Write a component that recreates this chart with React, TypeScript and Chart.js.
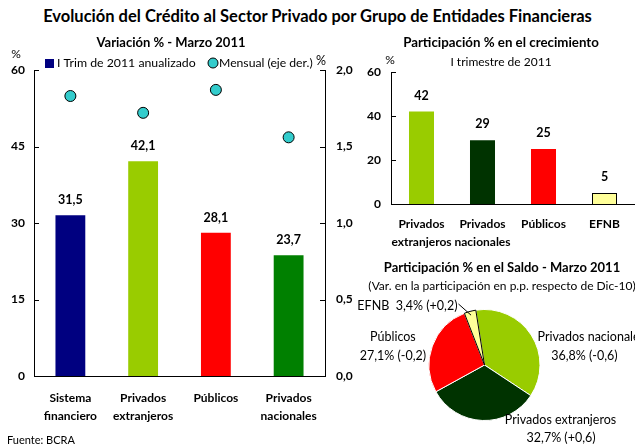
import React, { useEffect, useRef } from "react";
import { Chart, registerables } from "chart.js";

Chart.register(...registerables);

const W = 635;
const H = 448;
const FONT = "Lato, 'DejaVu Sans', sans-serif";

// ---- Left panel data ----
const leftCategories = [["Sistema", "financiero"], ["Privados", "extranjeros"], ["Públicos"], ["Privados", "nacionales"]];
const annualizedValues = [31.5, 42.1, 28.1, 23.7];
const annualizedColors = ["#000080", "#99CC00", "#FF0000", "#008000"];
const monthlyValues = [1.83, 1.72, 1.87, 1.56];
const leftAxisTicks = [0, 15, 30, 45, 60];
const rightAxisTicks = [0, 0.5, 1, 1.5, 2];

// ---- Top-right panel data ----
const growthCategories = [["Privados", "extranjeros"], ["Privados", "nacionales"], ["Públicos"], ["EFNB"]];
const growthValues = [42, 29, 25, 5];
const growthColors = ["#99CC00", "#003300", "#FF0000", "#FFFF99"];
const growthTicks = [0, 20, 40, 60];

// ---- Pie panel data ----
const pieLabels = ["Privados nacionales", "Privados extranjeros", "Públicos", "EFNB"];
const pieValues = [36.8, 32.7, 27.1, 3.4];
const pieChanges = ["-0,6", "+0,6", "-0,2", "+0,2"];
const pieColors = ["#99CC00", "#003300", "#FF0000", "#FFFF99"];

const comma = (v: number, d = 1) => v.toFixed(d).replace(".", ",");

function text(ctx: CanvasRenderingContext2D, s: string, x: number, y: number, size: number, bold: boolean, align: CanvasTextAlign = "center") {
  ctx.save();
  ctx.font = `${bold ? "bold " : ""}${size}px ${FONT}`;
  ctx.fillStyle = "#000";
  ctx.textAlign = align;
  ctx.textBaseline = "middle";
  ctx.fillText(s, x, y);
  ctx.restore();
}

function inwardTicks(ctx: CanvasRenderingContext2D, scale: any, values: number[], side: "left" | "right") {
  ctx.save();
  ctx.strokeStyle = "#000";
  ctx.lineWidth = 1;
  values.forEach((v) => {
    const y = Math.round(scale.getPixelForValue(v)) + 0.5;
    ctx.beginPath();
    if (side === "left") {
      const x = scale.right;
      ctx.moveTo(x, y);
      ctx.lineTo(x + 5, y);
    } else {
      const x = scale.left;
      ctx.moveTo(x, y);
      ctx.lineTo(x - 5, y);
    }
    ctx.stroke();
  });
  ctx.restore();
}

const tickFont = { family: FONT, size: 12, weight: "bold" as const };
const catFont = { family: FONT, size: 12, weight: "bold" as const, lineHeight: 1.5 };

function leftConfig(): any {
  return {
    type: "bar",
    data: {
      labels: leftCategories,
      datasets: [
        {
          type: "line",
          label: "Mensual (eje der.)",
          data: monthlyValues,
          yAxisID: "y1",
          showLine: false,
          pointRadius: 5.5,
          pointBackgroundColor: "#33CCCC",
          pointBorderColor: "#000",
          pointBorderWidth: 1,
          order: 0,
        },
        {
          type: "bar",
          label: "I Trim de 2011 anualizado",
          data: annualizedValues,
          backgroundColor: annualizedColors,
          yAxisID: "y",
          barPercentage: 0.41,
          categoryPercentage: 1,
          order: 1,
        },
      ],
    },
    options: {
      responsive: false,
      animation: false,
      devicePixelRatio: 1,
      layout: { padding: { left: 8, right: 270, top: 70, bottom: 22 } },
      plugins: { legend: { display: false }, tooltip: { enabled: false }, title: { display: false } },
      scales: {
        x: {
          grid: { display: false, drawTicks: false },
          border: { display: true, color: "#000" },
          ticks: { font: catFont, color: "#000", padding: 13, maxRotation: 0, autoSkip: false },
          afterFit: (s: any) => { s.height = 50; },
        },
        y: {
          position: "left",
          min: 0,
          max: 60,
          afterBuildTicks: (s: any) => { s.ticks = leftAxisTicks.map((v) => ({ value: v })); },
          grid: { display: false, drawTicks: false },
          border: { display: true, color: "#000" },
          ticks: { font: tickFont, color: "#000", padding: 9 },
          afterFit: (s: any) => { s.width = 26; },
        },
        y1: {
          position: "right",
          min: 0,
          max: 2,
          afterBuildTicks: (s: any) => { s.ticks = rightAxisTicks.map((v) => ({ value: v })); },
          grid: { display: false, drawTicks: false },
          border: { display: true, color: "#000" },
          ticks: { font: tickFont, color: "#000", padding: 11, callback: (v: number) => comma(Number(v)) },
          afterFit: (s: any) => { s.width = 40; },
        },
      },
    },
    plugins: [
      {
        id: "leftDecor",
        afterDraw(chart: any) {
          const ctx = chart.ctx as CanvasRenderingContext2D;
          inwardTicks(ctx, chart.scales.y, leftAxisTicks, "left");
          inwardTicks(ctx, chart.scales.y1, rightAxisTicks, "right");
          const meta = chart.getDatasetMeta(1);
          meta.data.forEach((bar: any, i: number) => {
            text(ctx, comma(annualizedValues[i]), bar.x, bar.y - 15, 12.5, true);
          });
          text(ctx, "Variación % - Marzo 2011", 171, 43, 13, true);
          text(ctx, "%", 16, 54, 12, false);
          // legend
          ctx.save();
          ctx.fillStyle = "#000080";
          ctx.fillRect(45, 59, 9, 9);
          ctx.beginPath();
          ctx.arc(213, 63, 5, 0, Math.PI * 2);
          ctx.fillStyle = "#33CCCC";
          ctx.fill();
          ctx.strokeStyle = "#000";
          ctx.lineWidth = 1;
          ctx.stroke();
          ctx.restore();
          text(ctx, "I Trim de 2011 anualizado", 57, 63, 12.3, false, "left");
          text(ctx, "Mensual (eje der.)", 219, 63, 12.2, false, "left");
          text(ctx, "%", 321, 61, 12.5, false);
        },
      },
    ],
  };
}

function growthConfig(): any {
  return {
    type: "bar",
    data: {
      labels: growthCategories,
      datasets: [
        {
          label: "Participación % en el crecimiento",
          data: growthValues,
          backgroundColor: growthColors,
          borderColor: ["rgba(0,0,0,0)", "rgba(0,0,0,0)", "rgba(0,0,0,0)", "#000"],
          borderWidth: [0, 0, 0, 1],
          barPercentage: 0.41,
          categoryPercentage: 1,
        },
      ],
    },
    options: {
      responsive: false,
      animation: false,
      devicePixelRatio: 1,
      layout: { padding: { left: 361, right: 0, top: 72, bottom: 194 } },
      plugins: { legend: { display: false }, tooltip: { enabled: false } },
      scales: {
        x: {
          grid: { display: false, drawTicks: false },
          border: { display: true, color: "#000" },
          ticks: { font: catFont, color: "#000", padding: 11, maxRotation: 0, autoSkip: false },
          afterFit: (s: any) => { s.height = 50; },
        },
        y: {
          min: 0,
          max: 60,
          afterBuildTicks: (s: any) => { s.ticks = growthTicks.map((v) => ({ value: v })); },
          grid: { display: false, drawTicks: false },
          border: { display: true, color: "#000" },
          ticks: { font: tickFont, color: "#000", padding: 10 },
          afterFit: (s: any) => { s.width = 30; },
        },
      },
    },
    plugins: [
      {
        id: "growthDecor",
        afterDraw(chart: any) {
          const ctx = chart.ctx as CanvasRenderingContext2D;
          inwardTicks(ctx, chart.scales.y, growthTicks, "left");
          const meta = chart.getDatasetMeta(0);
          meta.data.forEach((bar: any, i: number) => {
            text(ctx, String(growthValues[i]), bar.x, bar.y - 16, 12.5, true);
          });
          text(ctx, "Participación % en el crecimiento", 501, 43, 13.3, true);
          text(ctx, "I trimestre de 2011", 501, 62, 12, false);
          text(ctx, "%", 390, 60, 12, false);
        },
      },
    ],
  };
}

function pieConfig(): any {
  return {
    type: "pie",
    data: {
      labels: pieLabels,
      datasets: [
        {
          data: pieValues,
          backgroundColor: pieColors,
          borderColor: ["#fff", "#fff", "#fff", "#000"],
          borderWidth: 1,
        },
      ],
    },
    options: {
      responsive: false,
      animation: false,
      devicePixelRatio: 1,
      rotation: -9,
      layout: { padding: { left: 428, right: 94, top: 309, bottom: 27 } },
      plugins: { legend: { display: false }, tooltip: { enabled: false } },
    },
    plugins: [
      {
        id: "pieDecor",
        afterDraw(chart: any) {
          const ctx = chart.ctx as CanvasRenderingContext2D;
          const arcs = chart.getDatasetMeta(0).data;
          const cx = arcs[0].x;
          const cy = arcs[0].y;
          const r = arcs[0].outerRadius;
          text(ctx, "Participación % en el Saldo - Marzo 2011", 502, 268, 13, true);
          text(ctx, "(Var. en la participación en p.p. respecto de Dic-10)", 502, 286, 12, false);
          const sub = (i: number) => `${comma(pieValues[i])}% (${pieChanges[i]})`;
          // Privados nacionales
          text(ctx, pieLabels[0], cx + 53, cy - 28, 12.5, false, "left");
          text(ctx, sub(0), cx + 1.8 * r, cy - 9, 12.5, false);
          // Privados extranjeros
          text(ctx, pieLabels[1], cx + 1.37 * r, cy + 55, 12.5, false);
          text(ctx, sub(1), cx + 1.38 * r, cy + 73, 12.5, false);
          // Públicos
          text(ctx, pieLabels[2], cx - 1.65 * r, cy - 28, 12.5, false);
          text(ctx, sub(2), cx - 1.65 * r, cy - 9, 12.5, false);
          // EFNB with leader line
          text(ctx, `${pieLabels[3]}  ${sub(3)}`, cx - 27, cy - 59, 12.5, false, "right");
          const a = arcs[3];
          const mid = (a.startAngle + a.endAngle) / 2;
          ctx.save();
          ctx.strokeStyle = "#000";
          ctx.lineWidth = 1;
          ctx.beginPath();
          ctx.moveTo(cx - 26, cy - 61);
          ctx.lineTo(cx + Math.cos(mid) * r * 0.93, cy + Math.sin(mid) * r * 0.93);
          ctx.stroke();
          ctx.restore();
        },
      },
    ],
  };
}

function ChartCanvas({ make }: { make: () => any }) {
  const ref = useRef<HTMLCanvasElement>(null);
  useEffect(() => {
    const chart = new Chart(ref.current as HTMLCanvasElement, make());
    return () => chart.destroy();
  }, []);
  return (
    <canvas
      ref={ref}
      width={W}
      height={H}
      style={{ position: "absolute", left: 0, top: 0, width: W, height: H }}
    />
  );
}

export default function App() {
  return (
    <div
      style={{
        position: "fixed",
        left: 0,
        top: 0,
        width: W,
        height: H,
        background: "#fff",
        overflow: "hidden",
        fontFamily: FONT,
        color: "#000",
      }}
    >
      <div
        style={{
          position: "absolute",
          left: 0,
          top: 6,
          width: W,
          textAlign: "center",
          fontSize: 16.5,
          fontWeight: "bold",
          lineHeight: "20px",
        }}
      >
        Evolución del Crédito al Sector Privado por Grupo de Entidades Financieras
      </div>
      <ChartCanvas make={leftConfig} />
      <ChartCanvas make={growthConfig} />
      <ChartCanvas make={pieConfig} />
      <div style={{ position: "absolute", left: 7, top: 432, fontSize: 11, lineHeight: "16px" }}>Fuente: BCRA</div>
    </div>
  );
}
